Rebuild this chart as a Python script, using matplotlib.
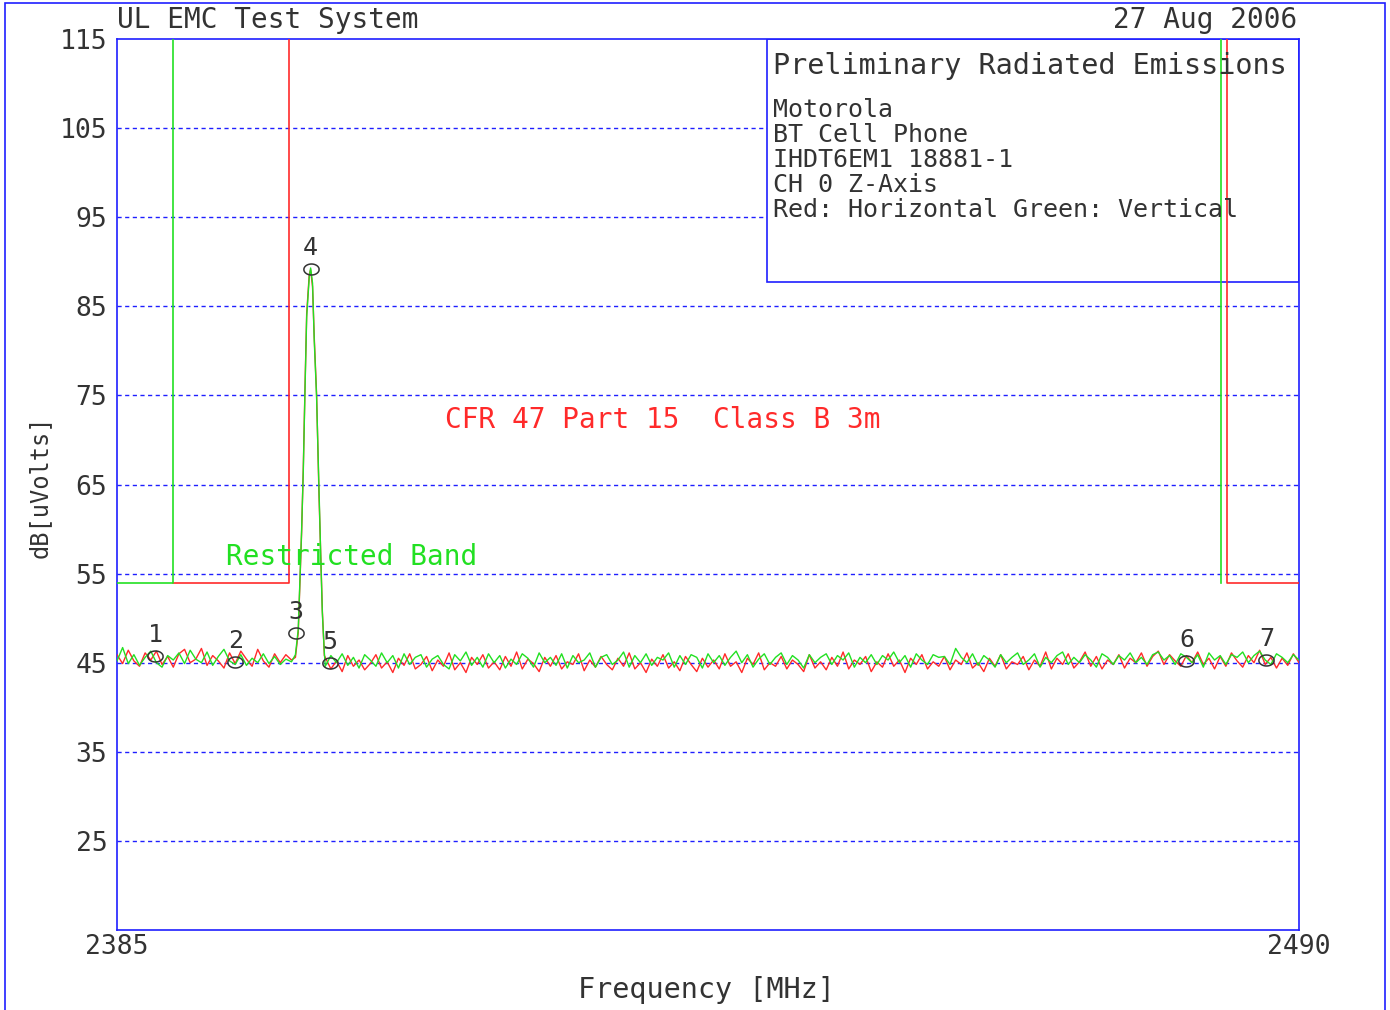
import numpy as np
import matplotlib.pyplot as plt
from matplotlib.patches import Rectangle

# sweep data (dBuV)
left_freq = np.arange(2385.0, 2400.51, 0.5)
right_freq = np.arange(2403.5, 2490.01, 0.5)
peak_freq = [2400.85, 2401.1, 2401.26, 2401.4, 2401.55, 2401.7, 2401.85, 2402.08,
             2402.2, 2402.37, 2402.52, 2402.73, 2402.94, 2403.1, 2403.24, 2403.42]

red_left = [45.9, 44.9, 46.4, 45.2, 44.6, 46.1, 45.3, 46.3, 44.8, 45.7,
            44.5, 46.0, 46.5, 45.0, 45.4, 46.6, 44.7, 45.8, 45.2, 44.4,
            46.1, 44.9, 46.3, 45.4, 44.6, 46.5, 45.2, 44.5, 46.0, 45.0,
            45.9, 45.3]
green_left = [45.2, 46.7, 44.9, 45.9, 44.7, 45.6, 46.3, 45.0, 44.5, 45.8,
              45.3, 46.1, 44.9, 46.4, 45.4, 45.0, 46.2, 44.7, 45.7, 46.5,
              45.2, 44.8, 45.9, 44.7, 45.5, 45.0, 46.0, 44.9, 45.7, 44.8,
              45.4, 45.1]

red_peak = [45.6, 48.4, 54.2, 59.6, 66.9, 75.9, 84.2, 88.6,
            89.1, 87.2, 81.6, 75.1, 64.0, 57.2, 50.9, 45.8]
green_peak = [45.9, 48.7, 54.6, 59.9, 66.6, 75.6, 83.8, 88.3,
              89.3, 87.6, 81.2, 74.8, 64.4, 56.9, 50.6, 46.1]

red_right = [45.6, 44.3, 45.2, 44.0, 45.8, 44.6, 45.3, 44.2, 44.9, 45.9,
             44.4, 45.1, 43.9, 45.5, 44.7, 46.0, 44.3, 44.8, 45.7, 44.1,
             45.3, 44.6, 46.1, 44.2, 45.0, 43.9, 45.6, 44.8, 45.9, 44.4,
             45.1, 44.2, 45.7, 44.6, 46.2, 44.3, 45.4, 44.9, 44.0, 45.6,
             44.6, 45.8, 44.3, 45.1, 44.8, 46.0, 44.1, 45.3, 44.5, 45.7,
             44.8, 44.2, 45.5, 44.6, 46.1, 44.3, 45.0, 43.9, 45.4, 44.6,
             45.9, 44.4, 45.1, 44.1, 45.7, 44.8, 44.0, 45.5, 44.5, 45.3,
             44.3, 46.0, 44.6, 45.1, 43.9, 45.5, 44.8, 46.1, 44.2, 45.0,
             44.6, 45.7, 44.3, 45.3, 44.8, 44.0, 45.9, 44.4, 45.1, 44.2,
             45.6, 44.6, 46.2, 44.3, 45.3, 44.8, 45.7, 44.0, 45.1, 44.5,
             46.0, 44.6, 45.3, 43.9, 45.5, 44.8, 45.9, 44.3, 45.1, 44.6,
             45.7, 44.2, 45.3, 44.8, 46.1, 44.4, 45.0, 44.0, 45.5, 44.6,
             45.9, 44.3, 45.1, 44.8, 45.7, 44.2, 45.3, 44.6, 46.2, 44.3,
             45.5, 44.8, 46.0, 44.4, 45.1, 46.2, 44.6, 45.7, 44.3, 45.3,
             44.8, 45.9, 44.4, 45.5, 45.0, 46.1, 44.6, 45.7, 46.3, 44.8,
             45.9, 45.2, 44.6, 45.8, 45.0, 46.2, 44.8, 45.5, 44.3, 45.7,
             44.6, 46.1, 45.2, 44.5, 45.8, 45.0, 46.4, 44.8, 45.6, 44.4,
             45.5, 44.7, 46.0, 45.0]
green_right = [44.6, 45.8, 45.0, 46.0, 44.7, 45.6, 44.4, 45.9, 45.3, 44.6,
               46.1, 45.0, 45.8, 44.4, 46.0, 44.8, 45.6, 45.9, 44.5, 45.4,
               45.8, 44.8, 44.3, 45.9, 45.2, 46.2, 44.7, 45.6, 44.5, 46.0,
               45.0, 45.8, 44.4, 45.4, 44.8, 46.0, 45.5, 44.5, 46.1, 45.0,
               45.6, 44.7, 46.0, 44.4, 45.8, 45.0, 45.3, 46.1, 44.5, 45.6,
               45.9, 44.8, 45.3, 46.2, 44.5, 45.8, 45.0, 46.0, 44.7, 45.6,
               45.3, 46.1, 44.5, 45.8, 44.8, 45.9, 45.6, 44.4, 46.0, 45.0,
               45.8, 44.7, 45.6, 46.3, 45.0, 45.9, 44.5, 45.4, 46.0, 44.8,
               45.6, 46.1, 44.8, 45.8, 45.3, 44.4, 45.9, 45.0, 45.6, 46.0,
               44.8, 45.8, 45.3, 46.1, 44.5, 45.6, 45.0, 45.9, 44.8, 45.8,
               45.3, 46.2, 45.0, 45.8, 44.5, 46.0, 45.3, 44.8, 45.9, 45.6,
               45.7, 44.8, 46.6, 45.6, 45.0, 46.0, 44.7, 45.8, 45.3, 44.5,
               45.9, 45.0, 45.6, 46.1, 44.8, 45.3, 46.0, 44.5, 45.6, 45.0,
               45.8, 46.2, 44.8, 45.6, 45.0, 45.9, 45.3, 44.5, 46.0, 45.6,
               44.8, 45.8, 45.3, 46.1, 45.0, 45.6, 44.8, 45.9, 46.2, 45.3,
               45.8, 44.8, 46.0, 45.6, 45.0, 45.9, 44.5, 46.1, 45.3, 45.8,
               44.8, 45.9, 45.6, 46.2, 45.0, 45.8, 46.3, 45.3, 44.8, 46.0,
               45.6, 45.0, 45.9, 45.3]

# limit lines
green_limit_f = [2385, 2390, 2390]
green_limit_db = [54, 54, 115]
green_limit2_f = [2483.1, 2483.1]
green_limit2_db = [115, 54]
red_limit_f = [2390, 2400.3, 2400.3]
red_limit_db = [54, 54, 115]
red_limit2_f = [2483.6, 2483.6, 2490]
red_limit2_db = [115, 54, 54]

# markers
marker_num = ['1', '2', '3', '4', '5', '6', '7']
marker_freq = [2388.4, 2395.5, 2400.9, 2402.2, 2403.9, 2480.0, 2487.1]
marker_db = [45.8, 45.1, 48.3, 89.2, 45.0, 45.2, 45.3]

y_ticks = [25, 35, 45, 55, 65, 75, 85, 95, 105, 115]
info_lines = ['Motorola', 'BT Cell Phone', 'IHDT6EM1 18881-1',
              'CH 0 Z-Axis', 'Red: Horizontal Green: Vertical']

BLUE = '#1f1fff'
RED = '#ff2a2a'
GREEN = '#22e022'
INK = '#333333'
FONT = 'DejaVu Sans Mono'
W, H = 1390, 1010

plt.rcParams['font.family'] = FONT
fig = plt.figure(figsize=(W / 100, H / 100), dpi=100)
ax = fig.add_axes([117 / W, 1 - 930 / H, (1299 - 117) / W, (930 - 39) / H])
ax.set_xlim(2385, 2490)
ax.set_ylim(15, 115)

# grid
for y in y_ticks[:-1]:
    ax.axhline(y, color=BLUE, lw=1, ls=(0, (3, 2.5)), zorder=1)

# info box
ax.add_patch(Rectangle((2442.74, 87.7), 2490 - 2442.74, 115 - 87.7,
                       facecolor='white', edgecolor=BLUE, lw=1.2, zorder=2))

# limits
ax.plot(red_limit_f, red_limit_db, color=RED, lw=1.2, zorder=3)
ax.plot(red_limit2_f, red_limit2_db, color=RED, lw=1.2, zorder=3)
ax.plot(green_limit_f, green_limit_db, color=GREEN, lw=1.2, zorder=3)
ax.plot(green_limit2_f, green_limit2_db, color=GREEN, lw=1.2, zorder=3)

# traces
freq = np.concatenate([left_freq, peak_freq, right_freq])
red_db = np.concatenate([red_left, red_peak, red_right])
green_db = np.concatenate([green_left, green_peak, green_right])
ax.plot(freq, red_db, color=RED, lw=1.0, zorder=4)
ax.plot(freq, green_db, color=GREEN, lw=1.0, zorder=5)

# markers
t = np.linspace(0, 2 * np.pi, 40)
ell = np.column_stack([np.cos(t), 0.72 * np.sin(t)])
ax.plot(marker_freq, marker_db, ls='none', marker=ell, markersize=11,
        mfc='none', mec=INK, mew=1.1, zorder=6)
for n, f, d in zip(marker_num, marker_freq, marker_db):
    ax.annotate(n, (f, d), xytext=(0, 21), textcoords='offset pixels',
                ha='center', va='center', fontsize=18, color=INK, zorder=6)

# axes styling
for s in ax.spines.values():
    s.set_color(BLUE)
    s.set_linewidth(1.2)
ax.set_yticks(y_ticks)
ax.set_yticklabels([str(v) for v in y_ticks])
ax.set_xticks([2385, 2490])
ax.set_xticklabels(['2385', '2490'])
ax.tick_params(axis='y', length=0, pad=7, labelsize=19, labelcolor=INK)
ax.tick_params(axis='x', length=0, pad=3, labelsize=19, labelcolor=INK)

# texts (positions in figure pixels)
def ftext(x, y, s, **kw):
    fig.text(x / W, 1 - y / H, s, **kw)

ftext(445, 420, 'CFR 47 Part 15  Class B 3m', color=RED, fontsize=20,
      ha='left', va='center', zorder=6)
ftext(226, 557, 'Restricted Band', color=GREEN, fontsize=20,
      ha='left', va='center', zorder=3)
ftext(117, 20, 'UL EMC Test System', fontsize=20, color=INK,
      ha='left', va='center')
ftext(1297, 20, '27 Aug 2006', fontsize=20, color=INK,
      ha='right', va='center')
ftext(773, 66, 'Preliminary Radiated Emissions', fontsize=20.5, color=INK,
      ha='left', va='center', zorder=6)
for i, line in enumerate(info_lines):
    ftext(773, 110 + 25 * i, line, fontsize=18, color=INK,
          ha='left', va='center', zorder=6)
ftext(40, 487, 'dB[uVolts]', fontsize=17, color=INK, rotation=90,
      ha='center', va='center')
ftext(706, 990, 'Frequency [MHz]', fontsize=20.5, color=INK,
      ha='center', va='center')

# outer frame
fig.add_artist(Rectangle((5 / W, -0.01), (1385 - 5) / W, 1 - 3 / H + 0.01,
                         transform=fig.transFigure, fill=False,
                         edgecolor=BLUE, lw=1.2))

fig.savefig('out.png', dpi=100)
